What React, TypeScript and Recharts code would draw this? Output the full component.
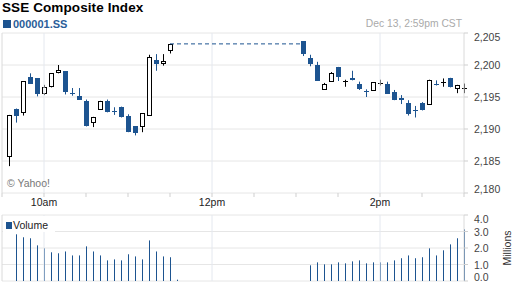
import { Bar, CartesianGrid, ComposedChart, Line, ReferenceLine, XAxis, YAxis } from 'recharts'

const BLUE = '#1d5490'
const FONT = 'Arial, "Liberation Sans", sans-serif'

// 5-minute candles, morning and afternoon session
const candleTimes = [
  '09:35', '09:40', '09:45', '09:50', '09:55', '10:00', '10:05', '10:10', '10:15', '10:20', '10:25', '10:30',
  '10:35', '10:40', '10:45', '10:50', '10:55', '11:00', '11:05', '11:10', '11:15', '11:20', '11:25', '11:30',
  '13:05', '13:10', '13:15', '13:20', '13:25', '13:30', '13:35', '13:40', '13:45', '13:50', '13:55', '14:00',
  '14:05', '14:10', '14:15', '14:20', '14:25', '14:30', '14:35', '14:40', '14:45', '14:50', '14:55', '15:00',
]
const opens = [
  2185.7, 2193.2, 2192.5, 2198.2, 2197.9, 2195.4, 2196.5, 2198.7, 2199.0, 2195.65, 2195.1, 2194.4,
  2190.9, 2193.0, 2194.3, 2192.85, 2193.5, 2192.1, 2190.4, 2190.3, 2192.1, 2200.8, 2200.2, 2202.2,
  2203.7, 2201.1, 2200.0, 2196.1, 2197.4, 2199.7, 2197.5, 2198.0, 2197.0, 2195.95, 2196.0, 2197.2,
  2197.0, 2195.8, 2194.9, 2194.1, 2192.95, 2194.0, 2193.8, 2197.1, 2197.4, 2198.0, 2196.2, 2196.4,
]
const highs = [
  2192.2, 2193.2, 2197.5, 2198.7, 2197.9, 2196.9, 2198.7, 2200.0, 2199.0, 2196.4, 2196.4, 2194.6,
  2191.9, 2194.4, 2194.6, 2193.4, 2193.5, 2192.3, 2190.4, 2192.5, 2201.6, 2201.7, 2201.7, 2203.3,
  2203.7, 2201.6, 2200.5, 2197.2, 2198.9, 2199.7, 2197.7, 2199.1, 2197.4, 2196.2, 2197.3, 2197.7,
  2197.4, 2196.1, 2195.3, 2194.5, 2193.6, 2194.2, 2197.7, 2197.6, 2197.9, 2198.0, 2196.9, 2197.1,
]
const lows = [
  2184.2, 2191.0, 2192.1, 2197.1, 2195.1, 2195.3, 2196.5, 2198.7, 2195.4, 2195.2, 2194.6, 2190.4,
  2190.3, 2193.0, 2192.6, 2192.2, 2191.8, 2189.5, 2189.0, 2189.5, 2192.1, 2199.1, 2199.9, 2201.8,
  2201.4, 2199.8, 2197.5, 2196.1, 2197.4, 2197.5, 2196.6, 2197.6, 2196.1, 2195.0, 2196.0, 2196.8,
  2195.5, 2194.5, 2193.9, 2192.1, 2191.8, 2192.9, 2193.8, 2196.8, 2196.6, 2196.5, 2195.6, 2195.6,
]
const closes = [
  2192.2, 2192.0, 2197.5, 2197.1, 2195.4, 2196.5, 2198.7, 2199.2, 2195.8, 2195.6, 2194.6, 2190.4,
  2191.9, 2194.4, 2192.6, 2192.8, 2191.8, 2189.5, 2189.3, 2192.5, 2201.2, 2200.1, 2200.7, 2203.3,
  2201.7, 2200.2, 2197.5, 2197.0, 2198.8, 2198.1, 2197.5, 2197.7, 2196.3, 2195.9, 2197.3, 2197.2,
  2195.5, 2194.6, 2194.5, 2192.3, 2192.9, 2193.0, 2197.7, 2197.05, 2197.4, 2196.5, 2196.9, 2196.4,
]
// lunch break: price held flat between these two bars
const lunchFrom = '11:30'
const lunchTo = '13:05'
const lunchLevel = 2203.3

// volume in millions
const volumeTimes = [
  '09:40', '09:45', '09:50', '09:55', '10:00', '10:05', '10:10', '10:15', '10:20', '10:25', '10:30', '10:35',
  '10:40', '10:45', '10:50', '10:55', '11:00', '11:05', '11:10', '11:15', '11:20', '11:25', '11:30', '11:35',
  '13:10', '13:15', '13:20', '13:25', '13:30', '13:35', '13:40', '13:45', '13:50', '13:55', '14:00', '14:05',
  '14:10', '14:15', '14:20', '14:25', '14:30', '14:35', '14:40', '14:45', '14:50', '14:55', '15:00',
]
const volumes = [
  2.83, 2.65, 2.59, 2.16, 1.98, 1.74, 1.68, 1.79, 1.55, 1.55, 2.1, 1.79,
  1.55, 1.25, 1.31, 1.25, 1.62, 1.49, 1.31, 2.46, 1.79, 1.49, 1.44, 0.08,
  0.95, 1.13, 1.01, 1.01, 1.13, 1.07, 1.19, 1.25, 1.07, 1.13, 1.13, 1.13,
  1.25, 1.38, 1.55, 1.38, 1.44, 1.98, 1.55, 1.86, 2.22, 2.59, 3.13,
]

const priceTicks = [2180, 2185, 2190, 2195, 2200, 2205]
const volumeTicks = [0, 1, 2, 3, 4]
const timeTicks = [0, 30, 60, 90, 120, 150, 180, 210, 240, 270, 300, 330]
const timeLabels: Record<number, string> = { 30: '10am', 150: '12pm', 270: '2pm' }
const hourLines = [30, 150, 270]

// minutes since 9:30
const toMin = (s: string) => {
  const [h, m] = s.split(':').map(Number)
  return h * 60 + m - 570
}

const candles = candleTimes.map((t, i) => ({
  t: toMin(t),
  range: [lows[i], highs[i]],
  o: opens[i],
  h: highs[i],
  l: lows[i],
  c: closes[i],
  flat: t === lunchFrom || t === lunchTo ? lunchLevel : null,
}))
const vols = volumeTimes.map((t, i) => ({ t: toMin(t), vol: volumes[i] }))

function Candle(props: any) {
  const { x, y, width, height, payload } = props
  const { o, h, l, c } = payload
  const top = Math.min(y, y + height)
  const span = Math.abs(height)
  const py = (v: number) => top + ((h - v) / (h - l || 1)) * span
  const px = Math.round(x + width / 2)
  const wx = px + 0.5
  if (Math.abs(c - o) < 0.1) {
    const col = c < o ? BLUE : '#000'
    const yy = Math.round(py(o)) + 0.5
    return (
      <g>
        <line x1={wx} x2={wx} y1={py(h)} y2={py(l)} stroke={col} />
        <line x1={px - 2} x2={px + 3} y1={yy} y2={yy} stroke={col} />
      </g>
    )
  }
  if (c < o) {
    const y1 = Math.round(py(o))
    const y2 = Math.round(py(c))
    return (
      <g>
        <line x1={wx} x2={wx} y1={py(h)} y2={py(l)} stroke={BLUE} />
        <rect x={px - 2} y={y1} width={5} height={Math.max(1, y2 - y1)} fill={BLUE} />
      </g>
    )
  }
  const y1 = Math.round(py(c))
  const y2 = Math.round(py(o))
  return (
    <g>
      <line x1={wx} x2={wx} y1={py(h)} y2={py(l)} stroke="#000" />
      <rect x={px - 1.5} y={y1 + 0.5} width={4} height={Math.max(1, y2 - y1 - 1)} fill="#fff" stroke="#000" />
    </g>
  )
}

function VolBar(props: any) {
  const { x, y, width, height } = props
  if (!height) return null
  return <rect x={Math.round(x + width / 2)} y={y} width={1} height={height} fill={BLUE} />
}

const sideTick = (fmt: (v: number) => string, lo: number, hi: number) => (props: any) => {
  const { x, y, payload } = props
  const v = payload.value
  const dy = v === hi ? 4 : v === lo ? -4 : 0
  return (
    <text x={x + 6} y={y + dy} dominantBaseline="central" fontSize={10.5} fill="#444" fontFamily={FONT}>
      {fmt(v)}
    </text>
  )
}

export default function App() {
  return (
    <div style={{ position: 'absolute', left: 0, top: 0, width: 512, height: 288, background: '#fff', fontFamily: FONT, overflow: 'hidden' }}>
      <div style={{ position: 'absolute', left: 0, top: 0 }}>
        <ComposedChart width={512} height={210} data={candles} margin={{ top: 33, right: 0, bottom: 0, left: 2 }}>
          <CartesianGrid vertical={false} stroke="#e6e6e6" />
          {hourLines.map((h) => (
            <ReferenceLine key={h} x={h} stroke="#e4e8ef" />
          ))}
          <ReferenceLine x={0} stroke="#dadada" />
          <ReferenceLine x={330} stroke="#dadada" />
          <XAxis
            type="number"
            dataKey="t"
            domain={[0, 330]}
            ticks={timeTicks}
            interval={0}
            height={17}
            axisLine={false}
            tickSize={4}
            tickMargin={2}
            tickLine={{ stroke: '#cfcfcf' }}
            tick={{ fontSize: 10.5, fill: '#222', fontFamily: FONT }}
            tickFormatter={(v) => timeLabels[v] ?? ''}
          />
          <YAxis
            orientation="right"
            domain={[2180, 2205]}
            ticks={priceTicks}
            interval={0}
            width={48}
            axisLine={false}
            tickSize={4}
            tickMargin={0}
            tickLine={{ stroke: '#cfcfcf' }}
            tick={sideTick((v) => v.toLocaleString('en-US'), 2180, 2205)}
          />
          <Line dataKey="flat" stroke={BLUE} strokeWidth={1} strokeDasharray="4 3" dot={false} connectNulls isAnimationActive={false} />
          <Bar dataKey="range" barSize={5} shape={<Candle />} isAnimationActive={false} />
        </ComposedChart>
      </div>
      <div style={{ position: 'absolute', left: 0, top: 200 }}>
        <ComposedChart width={512} height={88} data={vols} margin={{ top: 15, right: 0, bottom: 0, left: 2 }}>
          <CartesianGrid vertical={false} stroke="#e6e6e6" />
          {hourLines.map((h) => (
            <ReferenceLine key={h} x={h} stroke="#e4e8ef" />
          ))}
          <ReferenceLine x={0} stroke="#dadada" />
          <ReferenceLine x={330} stroke="#dadada" />
          <XAxis
            type="number"
            dataKey="t"
            domain={[0, 330]}
            ticks={timeTicks}
            interval={0}
            height={7}
            axisLine={false}
            tickSize={4}
            tickLine={{ stroke: '#cfcfcf' }}
            tick={false}
          />
          <YAxis
            orientation="right"
            domain={[0, 4]}
            ticks={volumeTicks}
            interval={0}
            width={48}
            axisLine={false}
            tickSize={4}
            tickMargin={0}
            tickLine={{ stroke: '#cfcfcf' }}
            tick={sideTick((v) => v.toFixed(1), 0, 4)}
          />
          <Bar dataKey="vol" barSize={1} shape={<VolBar />} isAnimationActive={false} />
        </ComposedChart>
      </div>

      <div style={{ position: 'absolute', left: 2, top: 0, fontSize: 13.5, fontWeight: 'bold', letterSpacing: 0.1, lineHeight: '15px', color: '#000' }}>
        SSE Composite Index
      </div>
      <div style={{ position: 'absolute', left: 3, top: 20, width: 8, height: 8, background: BLUE }} />
      <div style={{ position: 'absolute', left: 13, top: 17, fontSize: 11, fontWeight: 'bold', lineHeight: '14px', color: '#2a5d99' }}>
        000001.SS
      </div>
      <div style={{ position: 'absolute', right: 50, top: 17, fontSize: 10.3, lineHeight: '14px', color: '#aaa' }}>
        Dec 13, 2:59pm CST
      </div>
      <div style={{ position: 'absolute', left: 7, top: 176, fontSize: 10.5, lineHeight: '14px', color: '#777' }}>
        © Yahoo!
      </div>
      <div style={{ position: 'absolute', left: 3, top: 216, width: 52, height: 16, background: '#fff' }}>
        <div style={{ position: 'absolute', left: 3, top: 6, width: 6, height: 7, background: BLUE }} />
        <div style={{ position: 'absolute', left: 10, top: 3, fontSize: 10.5, lineHeight: '13px', color: '#222' }}>Volume</div>
      </div>
      <div
        style={{ position: 'absolute', left: 507, top: 248, transform: 'translate(-50%, -50%) rotate(-90deg)', fontSize: 10.5, lineHeight: '12px', color: '#333', whiteSpace: 'nowrap' }}
      >
        Millions
      </div>
    </div>
  )
}
